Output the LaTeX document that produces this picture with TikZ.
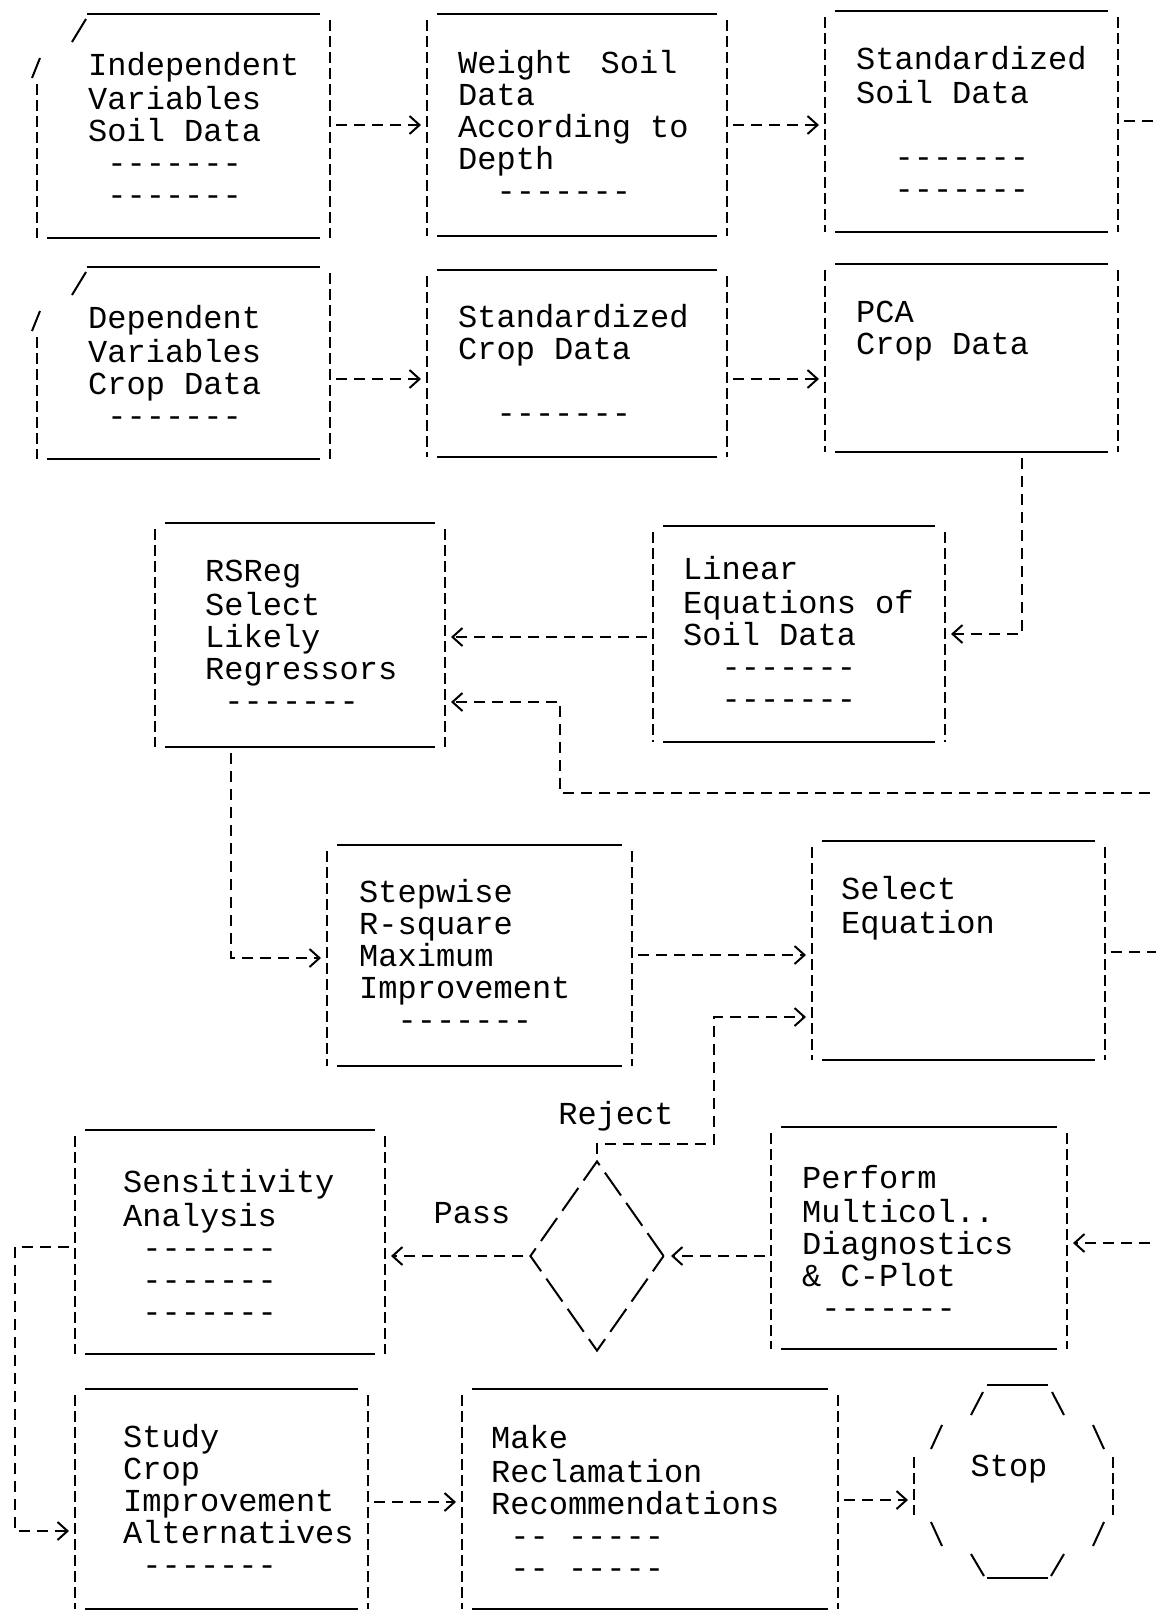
\documentclass[tikz,border=0pt]{standalone}
\usepackage{fontspec}
\setmonofont{Liberation Mono}
\usetikzlibrary{positioning, arrows.meta, shapes.geometric}

\newcommand{\cellsp}{\phantom{-}}

% box outline: solid top and bottom, broken bars at the sides
\newcommand{\asciibox}[1]{%
  \draw[rule] ([xshift=10pt]#1.north west) -- ([xshift=-10pt]#1.north east);
  \draw[rule] ([xshift=10pt]#1.south west) -- ([xshift=-10pt]#1.south east);
  \draw[bar] ([yshift=-6pt]#1.north west) -- (#1.south west);
  \draw[bar] ([yshift=-6pt]#1.north east) -- (#1.south east);
}
% input card: same, with the top left corner cut off
\newcommand{\asciicard}[1]{%
  \draw[rule] ([xshift=50pt]#1.north west) -- ([xshift=-10pt]#1.north east);
  \draw[rule] ([xshift=10pt]#1.south west) -- ([xshift=-10pt]#1.south east);
  \draw[slash] ([xshift=49pt,yshift=-5pt]#1.north west) -- ([xshift=35pt,yshift=-28pt]#1.north west);
  \draw[slash] ([xshift=3pt,yshift=-44pt]#1.north west) -- ([xshift=-5pt,yshift=-64pt]#1.north west);
  \draw[bar] ([yshift=-70pt]#1.north west) -- (#1.south west);
  \draw[bar] ([yshift=-6pt]#1.north east) -- (#1.south east);
}

\tikzset{
  frame/.style={anchor=north west, inner sep=0pt, outer sep=0pt},
  txt/.style={font=\ttfamily\fontsize{32}{32}\selectfont, align=left, inner sep=0pt},
  rule/.style={line width=2.4pt},
  bar/.style={line width=2pt, dash pattern=on 11pt off 5pt},
  slash/.style={line width=2pt},
  link/.style={line width=2pt, dash pattern=on 11pt off 7pt, shorten <=6pt},
  arr/.style={link, -{Straight Barb[length=10pt,width=18pt,line width=2pt]}, shorten >=6pt}
}

\begin{document}
\begin{tikzpicture}[x=1pt, y=-1pt]
\fill[white, use as bounding box] (0,0) rectangle (1156,1612);

% Boxes
\node[frame, minimum width=293pt, minimum height=224pt] (indep) at (37,14) {};
\node[frame, minimum width=300pt, minimum height=222pt] (weight) at (427,14) {};
\node[frame, minimum width=293pt, minimum height=221pt] (stdsoil) at (825,11) {};
\node[frame, minimum width=293pt, minimum height=192pt] (dep) at (37,267) {};
\node[frame, minimum width=300pt, minimum height=187pt] (stdcrop) at (427,270) {};
\node[frame, minimum width=293pt, minimum height=188pt] (pca) at (825,264) {};
\node[frame, minimum width=292pt, minimum height=216pt] (lineq) at (653,526) {};
\node[frame, minimum width=290pt, minimum height=224pt] (rsreg) at (155,523) {};
\node[frame, minimum width=305pt, minimum height=221pt] (stepw) at (327,845) {};
\node[frame, minimum width=293pt, minimum height=219pt] (selecteq) at (812,841) {};
\node[frame, minimum width=310pt, minimum height=224pt] (sens) at (75,1130) {};
\node[frame, minimum width=296pt, minimum height=222pt] (multicol) at (771,1127) {};
\node[frame, minimum width=293pt, minimum height=220pt] (study) at (75,1389) {};
\node[frame, minimum width=376pt, minimum height=220pt] (reclaim) at (462,1389) {};

\asciicard{indep}
\asciicard{dep}
\asciibox{weight}
\asciibox{stdsoil}
\asciibox{stdcrop}
\asciibox{pca}
\asciibox{lineq}
\asciibox{rsreg}
\asciibox{stepw}
\asciibox{selecteq}
\asciibox{sens}
\asciibox{multicol}
\asciibox{study}
\asciibox{reclaim}

% Box texts
\node[txt, below right=38pt and 51pt of indep.north west] (indepT)
  {\strut Independent\\Variables\\Soil Data\\\cellsp-------\\\cellsp-------};
\node[txt, below right=36pt and 31pt of weight.north west] (weightT)
  {\strut Weight\hspace{8pt} Soil\\Data\\According to\\Depth\\\cellsp\cellsp-------};
\node[txt, below right=35pt and 31pt of stdsoil.north west] (stdsoilT)
  {\strut Standardized\\Soil Data\\\strut\\\cellsp\cellsp-------\\\cellsp\cellsp-------};
\node[txt, below right=38pt and 51pt of dep.north west] (depT)
  {\strut Dependent\\Variables\\Crop Data\\\cellsp-------};
\node[txt, below right=34pt and 31pt of stdcrop.north west] (stdcropT)
  {\strut Standardized\\Crop Data\\\strut\\\cellsp\cellsp-------};
\node[txt, below right=36pt and 31pt of pca.north west] (pcaT)
  {\strut PCA\\Crop Data};
\node[txt, below right=30pt and 30pt of lineq.north west] (lineqT)
  {\strut Linear\\Equations of\\Soil Data\\\cellsp\cellsp-------\\\cellsp\cellsp-------};
\node[txt, below right=36pt and 50pt of rsreg.north west] (rsregT)
  {\strut RSReg\\Select\\Likely\\Regressors\\\cellsp-------};
\node[txt, below right=34pt and 32pt of stepw.north west] (stepwT)
  {\strut Stepwise\\R-square\\Maximum\\Improvement\\\cellsp\cellsp-------};
\node[txt, below right=35pt and 29pt of selecteq.north west] (selecteqT)
  {\strut Select\\Equation};
\node[txt, below right=39pt and 48pt of sens.north west] (sensT)
  {\strut Sensitivity\\Analysis\\\cellsp-------\\\cellsp-------\\\cellsp-------};
\node[txt, below right=38pt and 31pt of multicol.north west] (multicolT)
  {\strut Perform\\Multicol..\\Diagnostics\\\& C-Plot\\\cellsp-------};
\node[txt, below right=35pt and 48pt of study.north west] (studyT)
  {\strut Study\\Crop\\Improvement\\Alternatives\\\cellsp-------};
\node[txt, below right=36pt and 29pt of reclaim.north west] (reclaimT)
  {\strut Make\\Reclamation\\Recommendations\\\cellsp-- -----\\\cellsp-- -----};

% Decision and stop
\node[draw, diamond, line width=2pt, dash pattern=on 28pt off 9pt, inner sep=0pt,
  minimum width=134pt, minimum height=190pt] (dia) at (597,1256) {};
\node[txt] (rejectL) at (616,1116) {Reject};
\node[txt] (passL) at (472,1213) {Pass};
\node[txt] (stop) at (1009,1469) {Stop};
\draw[rule] (987,1385) -- (1048,1385);
\draw[rule] (987,1578) -- (1048,1578);
\draw[slash] (983,1392) -- (971,1415) (942,1425) -- (931,1449)
  (1052,1392) -- (1064,1415) (1093,1425) -- (1104,1449)
  (931,1522) -- (942,1546) (971,1554) -- (984,1576)
  (1104,1522) -- (1093,1546) (1064,1554) -- (1051,1576);
\draw[bar] (914,1457) -- (914,1515) (1113,1457) -- (1113,1515);

% Loose ends
\coordinate (offC) at (1156,121);
\coordinate (offH) at (1156,793);
\coordinate (joinH) at (560,702);
\coordinate (offJ) at (1156,952);
\coordinate (offL) at (1156,1243);
\coordinate (rejA) at (714,1144);
\coordinate (loopK) at (15,1247);
\coordinate (stopin) at (914,1500);

% Connectors
\draw[arr] (indep.east |- 0,125) -- (weight.west |- 0,125);
\draw[arr] (weight.east |- 0,125) -- (stdsoil.west |- 0,125);
\draw[link] (stdsoil.east |- offC) -- (offC);
\draw[arr] (dep.east |- 0,379) -- (stdcrop.west |- 0,379);
\draw[arr] (stdcrop.east |- 0,379) -- (pca.west |- 0,379);
\draw[arr] (pca.south -| 1022,0) |- (lineq.east |- 0,634);
\draw[arr] (lineq.west |- 0,637) -- (rsreg.east |- 0,637);
\draw[arr] (offH) -| (joinH) -- (rsreg.east |- joinH);
\draw[arr] (rsreg.south -| 231,0) |- (stepw.west |- 0,958);
\draw[arr] (stepw.east |- 0,955) -- (selecteq.west |- 0,955);
\draw[link] (selecteq.east |- offJ) -- (offJ);
\draw[arr] (dia.north) |- (rejA) |- (selecteq.west |- 0,1017);
\draw[arr] (offL) -- (multicol.east |- offL);
\draw[arr] (multicol.west |- dia.east) -- (dia.east);
\draw[arr] (dia.west) -- (sens.east |- dia.west);
\draw[arr] (sens.west |- loopK) -- (loopK) |- (study.west |- 0,1531);
\draw[arr] (study.east |- 0,1502) -- (reclaim.west |- 0,1502);
\draw[arr] (reclaim.east |- stopin) -- (stopin);

\end{tikzpicture}
\end{document}
